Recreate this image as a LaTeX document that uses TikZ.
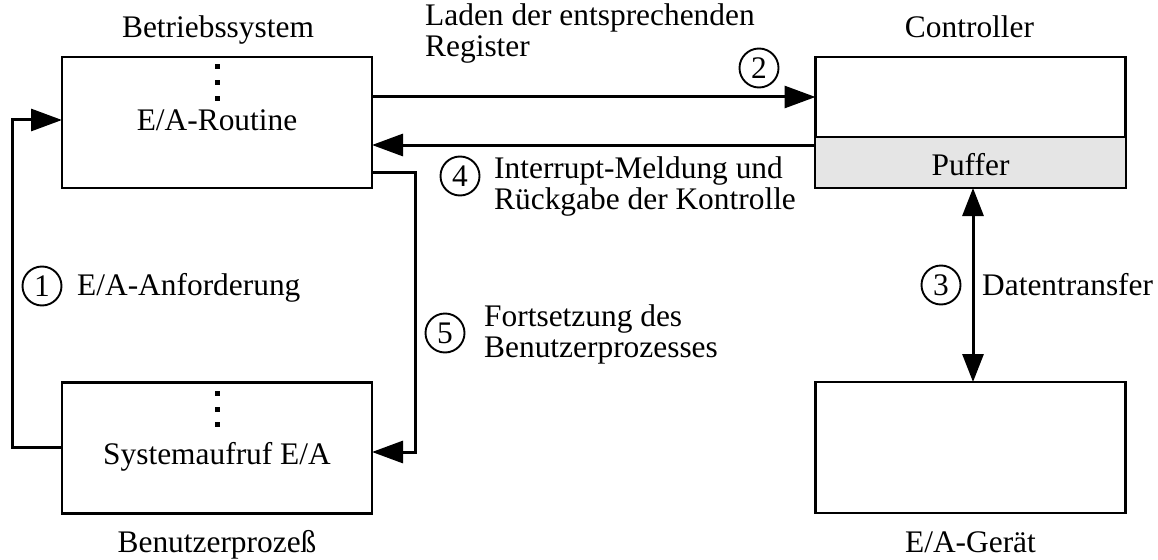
\documentclass[tikz,border=0pt]{standalone}
\usepackage{fontspec}
\setmainfont{Liberation Serif}
\usetikzlibrary{arrows.meta,calc}
\tikzset{
  lbl/.style={font=\fontsize{31.4}{31}\selectfont, inner sep=0pt, align=left},
  box/.style={draw, line width=2.6pt, minimum width=310pt, minimum height=131pt, inner sep=0pt, outer sep=0pt},
  pufbox/.style={draw, line width=1.8pt, fill=black!10, minimum width=310pt, minimum height=51pt, inner sep=0pt, outer sep=0pt, font=\fontsize{31.4}{31}\selectfont},
  circ/.style={draw, circle, line width=1.9pt, minimum size=39pt, inner sep=0pt, font=\fontsize{31.4}{31}\selectfont},
  arr/.style={line width=3pt, -{Triangle[length=31pt,width=22pt]}},
  darr/.style={line width=3pt, {Triangle[length=28pt,width=21pt]}-{Triangle[length=28pt,width=21pt]}},
  dotmark/.style={fill=black, minimum size=5pt, inner sep=0pt, draw=none}
}
\begin{document}
\begin{tikzpicture}[x=1pt,y=-1pt]
\useasboundingbox (0,0) rectangle (1158,559);
% boxes
\node[box] (bs) at (217,122.5) {};
\node[box] (sys) at (217,448) {};
\node[box] (ctrl) at (970.5,122.5) {};
\node[pufbox] (puf) at (970.5,162.5) {};
\node[lbl, anchor=base] (puftext) at (970.5,175) {Puffer};
\node[box] (dev) at (970.5,447.5) {};
% dots
\node[dotmark] (d1) at (217,67) {};
\node[dotmark] (d2) at (217,83) {};
\node[dotmark] (d3) at (217,99) {};
\node[dotmark] (d4) at (217,393) {};
\node[dotmark] (d5) at (217,409) {};
\node[dotmark] (d6) at (217,424) {};
% box texts
\node[lbl, anchor=base] (bstext) at (217,131) {E/A-Routine};
\node[lbl, anchor=base] (systext) at (217,464) {Systemaufruf E/A};
% titles
\node[lbl, anchor=base] (t1) at (218,38) {Betriebssystem};
\node[lbl, anchor=base] (t2) at (969.5,38) {Controller};
\node[lbl, anchor=base] (t3) at (217,552) {Benutzerprozeß};
\node[lbl, anchor=base] (t4) at (970.5,552) {E/A-Gerät};
% arrows
\draw[arr] ([yshift=25.5pt]bs.east) -- ([yshift=25.5pt]bs.east -| ctrl.west);
\draw[arr] ([yshift=-22.5pt]ctrl.west) -- ([yshift=-22.5pt]ctrl.west -| bs.east);
\coordinate (k5a) at (415,172);
\coordinate (k5b) at (415,452);
\draw[arr] ([yshift=-49.5pt]bs.east) -- (k5a) -- (k5b) -- (k5b -| sys.east);
\coordinate (k1a) at (12,447);
\coordinate (k1b) at (12,120);
\draw[arr] ([yshift=1pt]sys.west) -- (k1a) -- (k1b) -- (k1b -| bs.west);
\draw[darr] ([xshift=2.5pt]puf.south) -- ([xshift=2.5pt]dev.north);
% numbered circles
\node[circ] (c1) at (42,286) {1};
\node[circ] (c2) at (759,68) {2};
\node[circ] (c3) at (941,285) {3};
\node[circ] (c4) at (460,176) {4};
\node[circ] (c5) at (445,333) {5};
% labels
\node[lbl, anchor=base west] (l1) at (77,295) {E/A-Anforderung};
\node[lbl, anchor=base west] (l2) at (425,57) {Laden der entsprechenden\\Register};
\node[lbl, anchor=base west] (l3) at (982,295) {Datentransfer};
\node[lbl, anchor=base west] (l4) at (494,209) {Interrupt-Meldung und\\Rückgabe der Kontrolle};
\node[lbl, anchor=base west] (l5) at (484,357) {Fortsetzung des\\Benutzerprozesses};
\end{tikzpicture}
\end{document}
